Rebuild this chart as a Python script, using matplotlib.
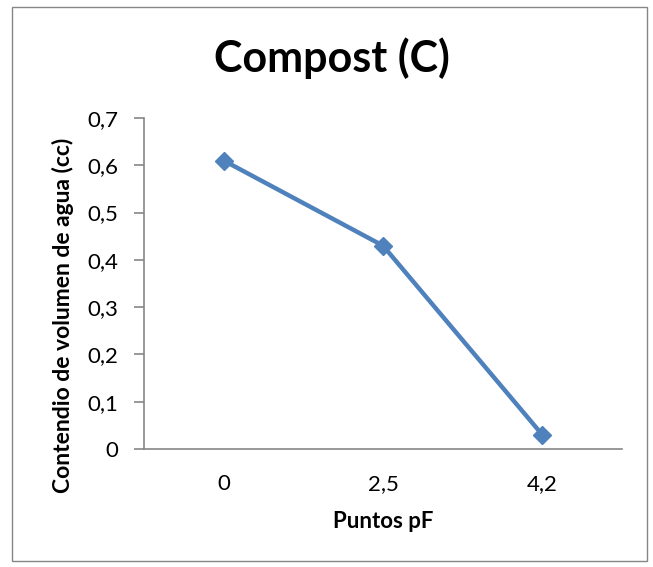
import matplotlib
import matplotlib.pyplot as plt
from matplotlib.patches import Rectangle
from matplotlib.ticker import FuncFormatter, MultipleLocator

matplotlib.use("Agg")

# water content per pF point (compost sample)
puntos_pf = ["0", "2,5", "4,2"]
contenido_agua = [0.61, 0.43, 0.03]

LINE_BLUE = "#4F81BD"
AXIS_GRAY = "#868686"

plt.rcParams["font.family"] = ["Lato", "DejaVu Sans"]

fig = plt.figure(figsize=(6.53, 5.67), dpi=100)
W, H = 653, 567

# chart area border
fig.patches.append(
    Rectangle((12 / W, 6 / H), (647 - 12) / W, (560 - 6) / H,
              transform=fig.transFigure, fill=False,
              edgecolor=AXIS_GRAY, linewidth=1.0)
)

ax = fig.add_axes([144 / W, 1 - 449 / H, (622 - 144) / W, (449 - 118) / H])

x = range(len(puntos_pf))
ax.plot(x, contenido_agua, color=LINE_BLUE, linewidth=3.2,
        marker="D", markersize=9, markerfacecolor=LINE_BLUE,
        markeredgecolor=LINE_BLUE, solid_capstyle="butt", clip_on=False)

ax.set_xlim(-0.5, len(puntos_pf) - 0.5)
ax.set_ylim(0, 0.7)
ax.set_xticks(list(x))
ax.set_xticklabels(puntos_pf)
ax.yaxis.set_major_locator(MultipleLocator(0.1))
ax.yaxis.set_major_formatter(
    FuncFormatter(lambda v, _: "0" if abs(v) < 1e-9 else f"{v:.1f}".replace(".", ","))
)

for side in ("top", "right"):
    ax.spines[side].set_visible(False)
for side in ("left", "bottom"):
    ax.spines[side].set_color(AXIS_GRAY)
    ax.spines[side].set_linewidth(1.2)

ax.tick_params(axis="y", direction="out", length=7, width=1.2,
               color=AXIS_GRAY, labelsize=16, pad=11.5)
ax.tick_params(axis="x", length=0, labelsize=16, pad=18)

ax.set_xlabel("Puntos pF", fontsize=16, fontweight="bold", labelpad=12)
ax.set_ylabel("Contendio de volumen de agua (cc)", fontsize=16.5,
              fontweight="bold", va="center")
ax.yaxis.set_label_coords(-0.17, 0.405)

fig.text(332 / W, 1 - 72 / H, "Compost (C)",
         ha="center", va="baseline", fontsize=31, fontweight="bold")

fig.savefig("out.png", dpi=100)
